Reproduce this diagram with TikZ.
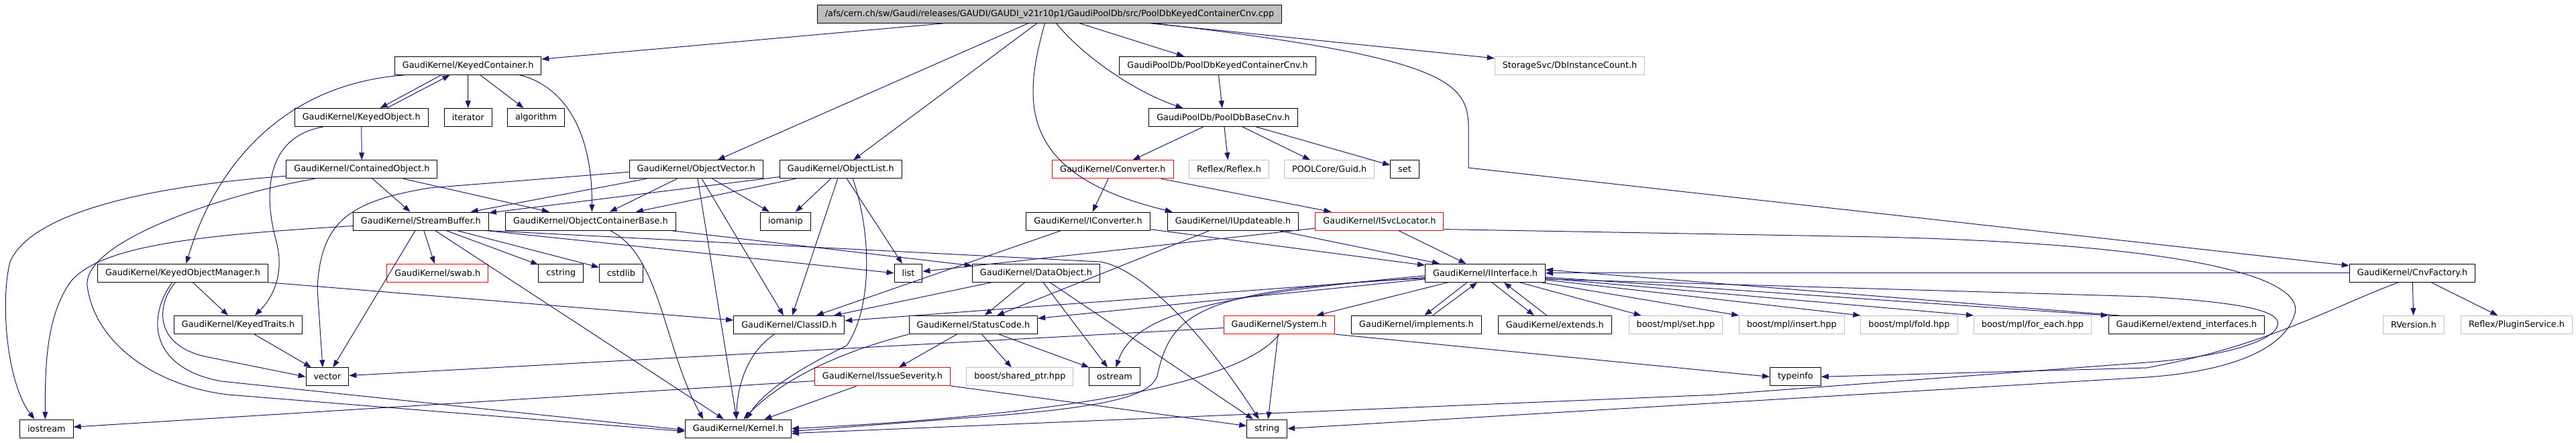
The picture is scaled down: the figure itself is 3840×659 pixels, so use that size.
\documentclass[tikz,border=0pt]{standalone}
\usepackage{fontspec}
\setmainfont{DejaVu Sans}
\usetikzlibrary{arrows.meta}
\definecolor{edgeblue}{HTML}{191970}
\definecolor{boxgray}{HTML}{BFBFBF}

\begin{document}
\begin{tikzpicture}[x=1pt,y=-1pt,
  file/.style={draw=black,line width=1pt,minimum height=27pt,inner xsep=11.5pt,inner ysep=0pt,
    font=\fontsize{12.85pt}{15pt}\selectfont},
  redfile/.style={file,draw=red},
  extfile/.style={file,draw=boxgray},
  rootfile/.style={file,fill=boxgray},
  inc/.style={draw=edgeblue,line width=1pt,-{Triangle[length=11pt,width=8pt]}}]
\useasboundingbox (0,0) rectangle (3840,659);

\node[rootfile] (root) at (1564.5,20.8) {/afs/cern.ch/sw/Gaudi/releases/GAUDI/GAUDI\_v21r10p1/GaudiPoolDb/src/PoolDbKeyedContainerCnv.cpp};

\node[file] (kc) at (697.6,97.8) {GaudiKernel/KeyedContainer.h};
\node[file] (kcnvh) at (1815,97.8) {GaudiPoolDb/PoolDbKeyedContainerCnv.h};
\node[extfile] (dbinst) at (2340,97.8) {StorageSvc/DbInstanceCount.h};

\node[file] (ko) at (538.7,175) {GaudiKernel/KeyedObject.h};
\node[file] (iter) at (697.8,175) {iterator};
\node[file] (algo) at (799,175) {algorithm};
\node[file] (base) at (1823.5,175) {GaudiPoolDb/PoolDbBaseCnv.h};

\node[file] (co) at (539.4,252.3) {GaudiKernel/ContainedObject.h};
\node[file] (ov) at (1037.8,252.3) {GaudiKernel/ObjectVector.h};
\node[file] (ol) at (1253.3,252.3) {GaudiKernel/ObjectList.h};
\node[redfile] (conv) at (1658.8,252.3) {GaudiKernel/Converter.h};
\node[extfile] (reflex) at (1832,252.3) {Reflex/Reflex.h};
\node[extfile] (guid) at (1981.7,252.3) {POOLCore/Guid.h};
\node[file] (stdset) at (2094,252.3) {set};

\node[file] (sb) at (627.4,329.6) {GaudiKernel/StreamBuffer.h};
\node[file] (ocb) at (880.4,329.6) {GaudiKernel/ObjectContainerBase.h};
\node[file] (iomanip) at (1171,329.6) {iomanip};
\node[file] (iconv) at (1622,329.6) {GaudiKernel/IConverter.h};
\node[file] (iupd) at (1838,329.6) {GaudiKernel/IUpdateable.h};
\node[redfile] (isvc) at (2056.4,329.6) {GaudiKernel/ISvcLocator.h};

\node[file] (kom) at (272.5,406.8) {GaudiKernel/KeyedObjectManager.h};
\node[redfile] (swab) at (652.3,406.8) {GaudiKernel/swab.h};
\node[file] (cstring) at (836.3,406.8) {cstring};
\node[file] (cstdlib) at (926,406.8) {cstdlib};
\node[file] (list) at (1354,406.8) {list};
\node[file] (dobj) at (1544.5,406.8) {GaudiKernel/DataObject.h};
\node[file] (iif) at (2214,406.8) {GaudiKernel/IInterface.h};
\node[file] (cnvfac) at (3596,406.8) {GaudiKernel/CnvFactory.h};

\node[file] (ktr) at (355,484) {GaudiKernel/KeyedTraits.h};
\node[file] (cid) at (1176.3,484) {GaudiKernel/ClassID.h};
\node[file] (sc) at (1450.9,484) {GaudiKernel/StatusCode.h};
\node[redfile] (sys) at (1906.8,484) {GaudiKernel/System.h};
\node[file] (impl) at (2111.5,484) {GaudiKernel/implements.h};
\node[file] (ext) at (2317.8,484) {GaudiKernel/extends.h};
\node[extfile] (mset) at (2498,484) {boost/mpl/set.hpp};
\node[extfile] (mins) at (2671,484) {boost/mpl/insert.hpp};
\node[extfile] (mfold) at (2845.9,484) {boost/mpl/fold.hpp};
\node[extfile] (mfor) at (3030,484) {boost/mpl/for\_each.hpp};
\node[file] (extif) at (3259.5,484) {GaudiKernel/extend\_interfaces.h};
\node[extfile] (rver) at (3598,484) {RVersion.h};
\node[extfile] (plug) at (3751.5,484) {Reflex/PluginService.h};

\node[file] (vec) at (488,561.3) {vector};
\node[redfile] (issue) at (1315.5,561.3) {GaudiKernel/IssueSeverity.h};
\node[extfile] (shptr) at (1520.4,561.3) {boost/shared\_ptr.hpp};
\node[file] (ostr) at (1661.5,561.3) {ostream};
\node[file] (tinfo) at (2676.4,561.3) {typeinfo};

\node[file] (ios) at (69.4,638.6) {iostream};
\node[file] (kern) at (1100.4,638.6) {GaudiKernel/Kernel.h};
\node[file] (str) at (1888.7,638.6) {string};

% root file
\draw[inc] (root) -- (kc);
\draw[inc] (root) -- (ov);
\draw[inc] (root) -- (ol);
\draw[inc] ([xshift=-7pt]root.south) .. controls (1525,150) and (1515,260) .. ([xshift=8pt]iupd.north west);
\draw[inc] ([xshift=10pt]root.south) .. controls (1620,90) and (1700,140) .. ([xshift=-60pt]base.north);
\draw[inc] ([xshift=45pt]root.south) -- ([xshift=-50pt]kcnvh.north);
\draw[inc] ([xshift=150pt]root.south) -- ([yshift=-3pt]dbinst.north west);
\draw[inc] ([xshift=157pt]root.south) .. controls (2150,85) and (2189,120) .. (2189,190) -- (2189,250) -- ([yshift=-3pt]cnvfac.north west);

% pool db converters
\draw[inc] (kcnvh) -- (base);
\draw[inc] (base) -- (conv);
\draw[inc] (base) -- (reflex);
\draw[inc] (base) -- (guid);
\draw[inc] (base) -- (stdset);
\draw[inc] (conv) -- (iconv);
\draw[inc] (conv) -- (isvc);
\draw[inc] (iconv) -- (cid);
\draw[inc] (iconv) -- (iif);
\draw[inc] (iupd) -- (iif);
\draw[inc] (iupd) -- (sc);
\draw[inc] (isvc) -- (iif);
\draw[inc] (isvc) -- (list);
\draw[inc] ([yshift=-12pt]isvc.east) -- (2800,353) .. controls (3300,365) and (3440,420) .. (3420,470) .. controls (3400,530) and (3300,555) .. (3200,562) -- (str.east);

% keyed container
\draw[inc] ([xshift=-40pt]kc.south) -- ([xshift=28pt]ko.north);
\draw[inc] ([xshift=38pt]ko.north) -- ([xshift=-27pt]kc.south);
\draw[inc] (kc) -- (iter);
\draw[inc] (kc) -- (algo);
\draw[inc] ([xshift=77pt]kc.south) .. controls (830,125) and (883,180) .. ([xshift=2pt]ocb.north);
\draw[inc] ([xshift=-94pt]kc.south) .. controls (420,125) and (320,250) .. ([xshift=5pt]kom.north);
\draw[inc] (ko) -- (co);
\draw[inc] ([xshift=-57pt]ko.south) .. controls (390,205) and (395,300) .. (412,360) .. controls (425,410) and (405,445) .. ([xshift=25pt]ktr.north);
\draw[inc] (co) -- (sb);
\draw[inc] (co) -- (ocb);
\draw[inc] ([yshift=-10pt]co.west) .. controls (250,275) and (50,310) .. (15,390) .. controls (0,450) and (10,570) .. ([xshift=-18pt]ios.north);
\draw[inc] ([xshift=-70pt]co.south) .. controls (330,290) and (125,360) .. (130,425) .. controls (140,510) and (230,575) .. (340,588) -- ([yshift=-4pt]kern.west);
\draw[inc] (kom) -- (ktr);
\draw[inc] ([xshift=-11pt]kom.south) .. controls (235,450) and (225,515) .. (310,532) -- (vec.west);
\draw[inc] ([xshift=-16pt]kom.south) .. controls (215,480) and (230,550) .. (330,568) -- ([yshift=-2pt]kern.west);
\draw[inc] (kom.south east) -- ([yshift=7pt]cid.west);
\draw[inc] (ktr) -- (vec);

% stream buffer
\draw[inc] ([yshift=-7pt]sb.west) .. controls (300,350) and (150,365) .. (105,420) .. controls (70,470) and (67,540) .. ([xshift=-2pt]ios.north);
\draw[inc] (sb) -- (swab);
\draw[inc] (sb) -- (vec);
\draw[inc] (sb) -- (cstring);
\draw[inc] (sb) -- (cstdlib);
\draw[inc] (sb) -- (kern);
\draw[inc] ([xshift=-4pt]sb.south east) -- (list.west);
\draw[inc] (sb.south east) -- (1640,390) .. controls (1700,400) and (1790,490) .. ([xshift=-12pt]str.north);

% object vector and list
\draw[inc] ([yshift=-4pt]ov.west) -- (640,280) .. controls (520,300) and (478,330) .. (473,430) -- ([xshift=-7pt]vec.north);
\draw[inc] (ov) -- (sb);
\draw[inc] (ov) -- (ocb);
\draw[inc] (ov) -- (iomanip);
\draw[inc] (ov) -- (cid);
\draw[inc] (ov) -- (kern);
\draw[inc] (ol) -- (sb);
\draw[inc] (ol) -- (ocb);
\draw[inc] (ol) -- (iomanip);
\draw[inc] (ol) -- (cid);
\draw[inc] (ol) -- (list);
\draw[inc] ([xshift=18pt]ol.south) .. controls (1300,350) and (1300,460) .. (1262,515) .. controls (1200,545) and (1140,580) .. ([xshift=12pt]kern.north);
\draw[inc] (ocb) -- (dobj);
\draw[inc] ([xshift=29pt]ocb.south) .. controls (985,380) and (990,520) .. ([xshift=-52pt]kern.north);

% data object, status code
\draw[inc] (dobj) -- (cid);
\draw[inc] (dobj) -- (sc);
\draw[inc] (dobj) -- (ostr);
\draw[inc] (dobj) -- (str);
\draw[inc] (sc) -- (issue);
\draw[inc] (sc) -- (shptr);
\draw[inc] (sc) -- (ostr);
\draw[inc] (sc.south west) .. controls (1290,515) and (1180,550) .. ([xshift=8pt]kern.north);
\draw[inc] (issue) -- (kern);
\draw[inc] (issue) -- (str);
\draw[inc] (issue) -- (ios);
\draw[inc] ([xshift=-22pt]cid.south) .. controls (1115,525) and (1100,570) .. ([xshift=-3pt]kern.north);

% system
\draw[inc] (sys) -- (vec);
\draw[inc] (sys.south) .. controls (1860,560) and (1650,615) .. (kern.east);
\draw[inc] (sys) -- (str);
\draw[inc] (sys.south east) -- (tinfo.west);

% interface
\draw[inc] (iif) -- (sys);
\draw[inc] ([xshift=-27pt]iif.south) -- ([xshift=12pt]impl.north);
\draw[inc] ([xshift=24pt]impl.north) -- ([xshift=-12pt]iif.south);
\draw[inc] ([xshift=10pt]iif.south) -- ([xshift=-31pt]ext.north);
\draw[inc] ([xshift=-12pt]ext.north) -- ([xshift=28pt]iif.south);
\draw[inc] (iif) -- (mset);
\draw[inc] (iif) -- (mins.north west);
\draw[inc] (iif) -- (mfold.north west);
\draw[inc] (iif) -- (mfor.north west);
\draw[inc] (iif) -- (extif.north west);
\draw[inc] ([xshift=-100pt]extif.north) -- ([yshift=5pt]iif.east);
\draw[inc] (iif) -- (cid);
\draw[inc] (iif) -- (sc);
\draw[inc] ([yshift=-4pt]iif.west) .. controls (1800,440) and (1690,470) .. ([xshift=2pt]ostr.north);
\draw[inc] ([yshift=-8pt]iif.west) .. controls (1780,430) and (1745,470) .. (1725,560) .. controls (1715,590) and (1650,605) .. (1500,618) -- ([yshift=-4pt]kern.east);
\draw[inc] ([yshift=-9pt]iif.east) -- (3200,442) .. controls (3370,452) and (3400,468) .. (3395,485) .. controls (3390,505) and (3330,530) .. (3200,540) -- (2560,588) -- ([yshift=-7pt]kern.east);

% converter factory
\draw[inc] (cnvfac) -- (iif);
\draw[inc] (cnvfac) -- (rver);
\draw[inc] (cnvfac) -- (plug);
\draw[inc] ([xshift=-21pt]cnvfac.south) .. controls (3470,460) and (3380,515) .. (3200,548) -- (tinfo.east);
\end{tikzpicture}
\end{document}
